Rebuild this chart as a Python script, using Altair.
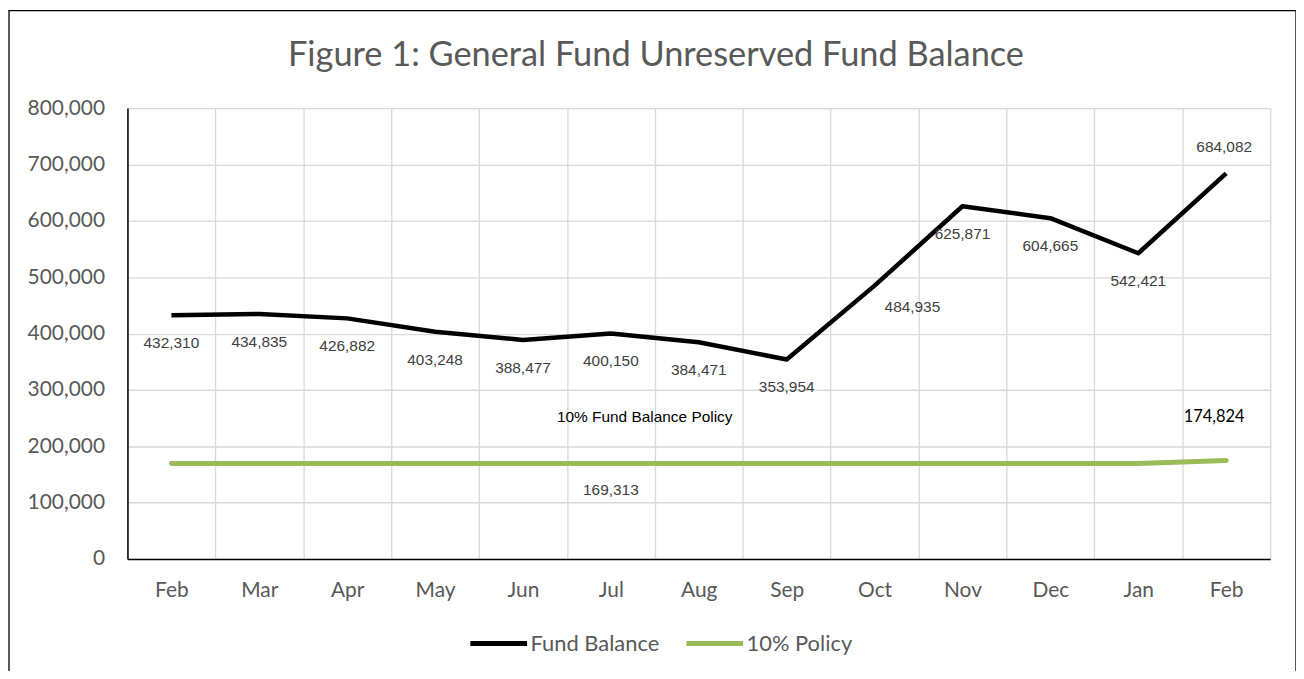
import altair as alt
import pandas as pd

months = ["Feb", "Mar", "Apr", "May", "Jun", "Jul", "Aug", "Sep", "Oct", "Nov", "Dec", "Jan", "Feb"]
fund_balance = [432310, 434835, 426882, 403248, 388477, 400150, 384471, 353954,
                484935, 625871, 604665, 542421, 684082]
policy = [169313, 169313, 169313, 169313, 169313, 169313, 169313, 169313,
          169313, 169313, 169313, 169313, 174824]
series_names = ["Fund Balance", "10% Policy"]
title_text = "Figure 1: General Fund Unreserved Fund Balance"
policy_note = "10% Fund Balance Policy"

rows = []
for i, m in enumerate(months):
    rows.append({"idx": i, "month": m, "series": series_names[0], "value": fund_balance[i]})
for i, m in enumerate(months):
    rows.append({"idx": i, "month": m, "series": series_names[1], "value": policy[i]})
df = pd.DataFrame(rows)

W, H = 1148, 453
GRID = "#d9d9d9"
CAL = "Lato"

label_expr = "[" + ",".join(f"'{m}'" for m in months) + "][datum.value]"

x_enc = alt.X("idx:O",
              scale=alt.Scale(type="band", paddingInner=0, paddingOuter=0),
              axis=alt.Axis(title=None, labelExpr=label_expr, labelAngle=0, tickBand="extent",
                            ticks=False, labelFont=CAL, labelFontSize=21, labelColor="#595959",
                            labelPadding=21, domainColor="#000000", domainWidth=1.5,
                            gridColor=GRID, gridWidth=1.3, grid=True))
y_enc = alt.Y("value:Q",
              scale=alt.Scale(domain=[0, 800000], nice=False),
              axis=alt.Axis(title=None, format=",.0f", values=list(range(0, 800001, 100000)),
                            ticks=False, labelFont=CAL, labelFontSize=21, labelColor="#595959",
                            labelPadding=23, domainColor="#000000", domainWidth=1.5,
                            gridColor=GRID, gridWidth=1.3))
color_enc = alt.Color("series:N",
                      scale=alt.Scale(domain=series_names, range=["#000000", "#9BBB59"]),
                      legend=alt.Legend(title=None, orient="none", legendX=342, legendY=507,
                                        direction="horizontal", symbolType="stroke",
                                        symbolSize=3249, symbolStrokeWidth=5,
                                        labelFont=CAL, labelFontSize=22, labelColor="#595959",
                                        labelOffset=1, columnPadding=16))

base = alt.Chart(df)

fund_line = base.transform_filter(alt.datum.series == series_names[0]).mark_line(
    strokeWidth=4.5, strokeJoin="round").encode(x=x_enc, y=y_enc, color=color_enc)
policy_line = base.transform_filter(alt.datum.series == series_names[1]).mark_line(
    strokeWidth=5, strokeCap="round", strokeJoin="round").encode(x=x_enc, y=y_enc, color=color_enc)

lab_font = "Liberation Sans"
txt = alt.Text("value:Q", format=",.0f")
fund_labels_below = base.transform_filter(
    (alt.datum.series == series_names[0]) & (alt.datum.idx != 8) & (alt.datum.idx != 12)
).mark_text(font=lab_font, fontSize=15.5, color="#404040", dy=28).encode(
    x=x_enc, y=y_enc, text=txt)
fund_label_oct = base.transform_filter(
    (alt.datum.series == series_names[0]) & (alt.datum.idx == 8)
).mark_text(font=lab_font, fontSize=15.5, color="#404040", dy=21, dx=38).encode(
    x=x_enc, y=y_enc, text=txt)
fund_label_last = base.transform_filter(
    (alt.datum.series == series_names[0]) & (alt.datum.idx == 12)
).mark_text(font=lab_font, fontSize=15.5, color="#404040", dy=-27, dx=-2).encode(
    x=x_enc, y=y_enc, text=txt)
policy_label_mid = base.transform_filter(
    (alt.datum.series == series_names[1]) & (alt.datum.idx == 5)
).mark_text(font=lab_font, fontSize=15.5, color="#404040", dy=27).encode(
    x=x_enc, y=y_enc, text=txt)
policy_note_txt = base.transform_filter(
    (alt.datum.series == series_names[1]) & (alt.datum.idx == 5)
).mark_text(font=lab_font, fontSize=15.5, color="#000000", dy=-47, dx=34, text=policy_note).encode(
    x=x_enc, y=y_enc)
policy_label_last = base.transform_filter(
    (alt.datum.series == series_names[1]) & (alt.datum.idx == 12)
).mark_text(font=CAL, fontSize=16.5, color="#000000", dy=-44, dx=-12).encode(
    x=x_enc, y=y_enc, text=txt)

title_mark = alt.Chart(alt.Data(values=[{}])).mark_text(
    text=title_text, font=CAL, fontSize=34.5, color="#595959", align="center", baseline="alphabetic"
).encode(x=alt.value(531), y=alt.value(-42))

border = alt.Chart(alt.Data(values=[{}])).mark_rect(
    fill=None, stroke="#000000", strokeWidth=1.3
).encode(x=alt.value(-119), x2=alt.value(1174), y=alt.value(-98), y2=alt.value(700))

chart = alt.layer(
    fund_line, policy_line, fund_labels_below, fund_label_oct, fund_label_last,
    policy_label_mid, policy_note_txt, policy_label_last, title_mark, border
).properties(
    width=W, height=H,
    autosize=alt.AutoSizeParams(type="none"),
    padding={"left": 120, "top": 99, "right": 26, "bottom": 111},
).configure_view(stroke=GRID, strokeWidth=1.3).configure(background="white")

chart.save("out.html", embed_options={"renderer": "svg", "actions": False})
